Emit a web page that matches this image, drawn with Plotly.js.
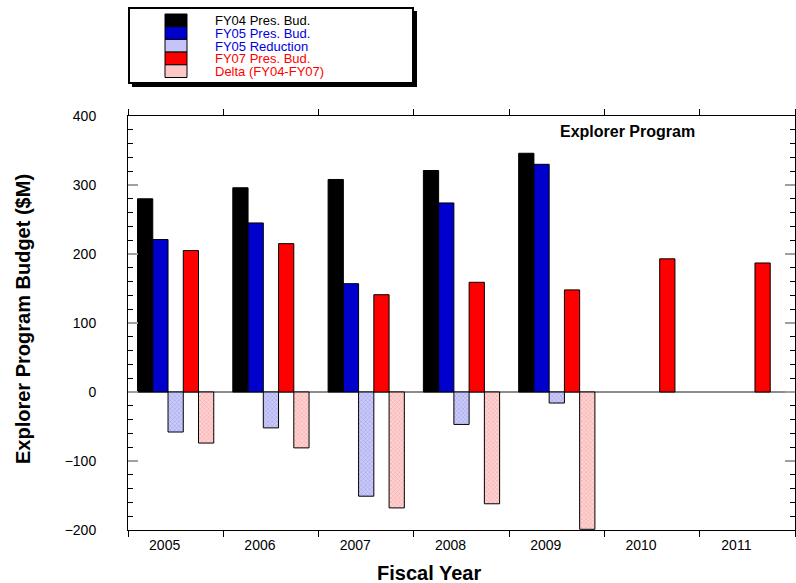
<!DOCTYPE html>
<html>
<head>
<meta charset="utf-8">
<script src="https://cdn.plot.ly/plotly-3.0.1.min.js"></script>
<style>html,body{margin:0;padding:0;background:#fff;}#chart{width:796px;height:583px;}</style>
</head>
<body>
<div id="chart"></div>
<script>
// ---- data ----
var years = ['2005', '2006', '2007', '2008', '2009', '2010', '2011'];
var fy04PresBud = [280, 296, 308, 321, 346, null, null];
var fy05PresBud = [221, 245, 157, 274, 330, null, null];
var fy05Reduction = [-58, -52, -151, -47, -16, null, null];
var fy07PresBud = [205, 215, 141, 159, 148, 193, 187];
var deltaFY04FY07 = [-74, -81, -168, -162, -199, null, null];

var seriesNames = ['FY04 Pres. Bud.', 'FY05 Pres. Bud.', 'FY05 Reduction', 'FY07 Pres. Bud.', 'Delta (FY04-FY07)'];
var seriesValues = [fy04PresBud, fy05PresBud, fy05Reduction, fy07PresBud, deltaFY04FY07];

// ---- styles ----
var FONT = 'Arial, "Liberation Sans", Helvetica, sans-serif';
var fills = ['#000000', '#0000cc', '#c4c4f6', '#ff0000', '#ffc6c6'];
var patterns = [null, null,
  {shape: 'x', fgcolor: '#9a9ae6', bgcolor: '#cbcbfa', size: 3, solidity: 0.3},
  null,
  {shape: 'x', fgcolor: '#f2a2a2', bgcolor: '#ffd2d2', size: 3, solidity: 0.3}];
var textColors = ['#000000', '#0000dd', '#0000dd', '#ff0000', '#ff0000'];

var traces = seriesNames.map(function (name, i) {
  var marker = {color: fills[i], line: {color: '#000000', width: 1}};
  if (patterns[i]) marker.pattern = patterns[i];
  return {type: 'bar', name: name, x: years, y: seriesValues[i], marker: marker,
          hoverinfo: 'x+y+name'};
});

// plot box in pixels
var W = 796, H = 583, L = 128, R = 1, T = 116, B = 53;
var PW = W - L - R, PH = H - T - B;
function px(x) { return (x - L) / PW; }
function py(y) { return (H - B - y) / PH; }

var shapes = [
  // legend shadow and box
  {type: 'rect', xref: 'paper', yref: 'paper', x0: px(132), x1: px(417), y0: py(87), y1: py(11),
   fillcolor: '#000000', line: {width: 0}, layer: 'above'},
  {type: 'rect', xref: 'paper', yref: 'paper', x0: px(129), x1: px(413), y0: py(83), y1: py(8),
   fillcolor: '#ffffff', line: {color: '#000000', width: 2}, layer: 'above'}
];
var annotations = [];
var rowTop = 14, rowH = 12.7;
seriesNames.forEach(function (name, i) {
  var y0 = rowTop + i * rowH, y1 = y0 + rowH;
  shapes.push({type: 'rect', xref: 'paper', yref: 'paper', x0: px(165), x1: px(187),
    y0: py(y1), y1: py(y0), fillcolor: fills[i], line: {color: '#000000', width: 1}, layer: 'above'});
  annotations.push({xref: 'paper', yref: 'paper', x: px(213), y: py((y0 + y1) / 2 + 0.5),
    xanchor: 'left', yanchor: 'middle', showarrow: false, text: name,
    font: {family: FONT, size: 13, color: textColors[i]}});
});
annotations.push({xref: 'paper', yref: 'paper', x: px(627), y: py(132), xanchor: 'center', yanchor: 'middle',
  showarrow: false, text: '<b>Explorer Program</b>', font: {family: FONT, size: 16, color: '#000'}});
annotations.push({xref: 'paper', yref: 'paper', x: px(429), y: py(573), xanchor: 'center', yanchor: 'middle',
  showarrow: false, text: '<b>Fiscal Year</b>', font: {family: FONT, size: 20, color: '#000'}});
annotations.push({xref: 'paper', yref: 'paper', x: px(23), y: py(319), xanchor: 'center', yanchor: 'middle',
  showarrow: false, textangle: -90, text: '<b>Explorer Program Budget ($M)</b>',
  font: {family: FONT, size: 20, color: '#000'}});

var layout = {
  width: W, height: H,
  margin: {l: L, r: R, t: T, b: B, pad: 0},
  paper_bgcolor: '#ffffff', plot_bgcolor: '#ffffff',
  showlegend: false,
  barmode: 'group', bargap: 0.2, bargroupgap: 0,
  font: {family: FONT, size: 14, color: '#000'},
  xaxis: {
    type: 'category', categoryorder: 'array', categoryarray: years,
    showgrid: false, zeroline: false,
    showline: true, linecolor: '#000', linewidth: 1, mirror: 'ticks',
    ticks: 'outside', tickson: 'boundaries', ticklen: 6, tickcolor: '#000', tickwidth: 1,
    ticklabelshift: -11, ticklabelstandoff: 2,
    tickfont: {family: FONT, size: 14, color: '#000'}
  },
  yaxis: {
    range: [-200, 400], dtick: 100, tick0: 0,
    showgrid: false,
    zeroline: true, zerolinecolor: '#8c8c8c', zerolinewidth: 1.5,
    showline: true, linecolor: '#000', linewidth: 1, mirror: 'ticks',
    ticks: 'inside', ticklen: 10, tickwidth: 2, tickcolor: '#a0a0a0',
    ticklabelstandoff: 28,
    minor: {dtick: 20, ticks: 'inside', ticklen: 5, tickwidth: 1, tickcolor: '#000', showgrid: false},
    tickfont: {family: FONT, size: 14, color: '#000'}
  },
  shapes: shapes,
  annotations: annotations
};

Plotly.newPlot('chart', traces, layout, {displayModeBar: false, staticPlot: true});
</script>
</body>
</html>
